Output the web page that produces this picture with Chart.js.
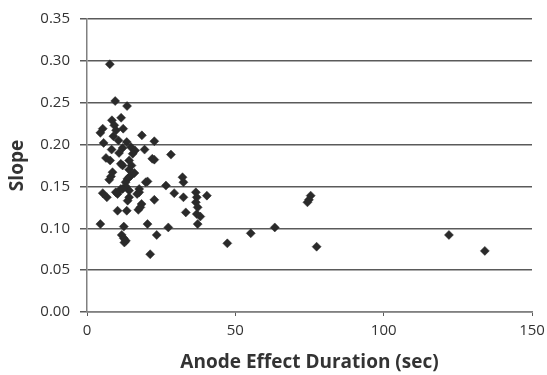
<!DOCTYPE html>
<html>
<head>
<meta charset="utf-8">
<script src="https://cdn.jsdelivr.net/npm/chart.js@4"></script>
<style>
  html, body { margin: 0; padding: 0; background: #fff; }
  #wrap { width: 547px; height: 375px; }
</style>
</head>
<body>
<div id="wrap"><canvas id="chart"></canvas></div>
<script>
// Anode effect duration (sec) vs slope
const durations = [
  7.7, 9.5, 13.5, 5.3, 4.5, 8.4, 9.2, 11.5, 9.8, 12.2,
  18.5, 22.7, 5.6, 10.6, 13.4, 14.8, 12.0, 8.3, 16.2, 19.4,
  28.3, 6.4, 7.8, 11.4, 14.2, 15.4, 22.7, 8.6, 8.1, 14.2,
  14.8, 7.5, 14.2, 20.4, 19.8, 32.2, 32.5, 26.6, 5.3, 6.7,
  10.3, 11.4, 13.1, 14.2, 14.2, 13.7, 17.6, 17.6, 22.7, 29.4,
  32.5, 36.7, 37.0, 40.4, 36.7, 37.3, 18.4, 18.0, 17.3, 10.3,
  13.4, 33.3, 37.0, 38.2, 4.5, 12.4, 20.4, 27.4, 37.3, 11.7,
  12.4, 13.1, 12.6, 23.5, 21.3, 47.3, 55.2, 63.3, 75.4, 74.8,
  74.3, 77.4, 122.0, 134.1, 12.0, 13.6, 16.9, 9.7, 12.0, 22.0,
  15.0, 10.8, 13.0, 8.9, 16.0
];
const slopes = [
  0.296, 0.252, 0.246, 0.219, 0.214, 0.229, 0.223, 0.232, 0.217, 0.219,
  0.211, 0.204, 0.202, 0.205, 0.203, 0.197, 0.196, 0.194, 0.193, 0.194,
  0.188, 0.184, 0.181, 0.177, 0.181, 0.189, 0.182, 0.167, 0.162, 0.170,
  0.163, 0.158, 0.161, 0.156, 0.155, 0.161, 0.155, 0.151, 0.142, 0.137,
  0.141, 0.147, 0.150, 0.145, 0.137, 0.133, 0.147, 0.143, 0.134, 0.142,
  0.137, 0.143, 0.137, 0.139, 0.131, 0.125, 0.129, 0.125, 0.122, 0.121,
  0.121, 0.119, 0.117, 0.114, 0.105, 0.102, 0.105, 0.101, 0.105, 0.092,
  0.088, 0.085, 0.083, 0.092, 0.069, 0.082, 0.094, 0.101, 0.139, 0.134,
  0.131, 0.078, 0.092, 0.073, 0.175, 0.159, 0.141, 0.143, 0.147, 0.183,
  0.175, 0.190, 0.155, 0.210, 0.166
];
const xTicks = [0, 50, 100, 150];
const yTicks = [0, 0.05, 0.10, 0.15, 0.20, 0.25, 0.30, 0.35];

const points = durations.map((d, i) => ({ x: d, y: slopes[i] }));
const textColor = '#333333';
const gridColor = '#5a5a5a';

new Chart(document.getElementById('chart'), {
  type: 'scatter',
  data: {
    datasets: [{
      data: points,
      pointStyle: 'rectRot',
      pointRadius: 4.5,
      pointBackgroundColor: '#2a2a2a',
      pointBorderColor: '#2a2a2a',
      pointBorderWidth: 0.5
    }]
  },
  options: {
    responsive: true,
    maintainAspectRatio: false,
    animation: false,
    layout: { padding: { top: 18, right: 15, left: 0, bottom: 0 } },
    plugins: {
      legend: { display: false },
      tooltip: { enabled: false }
    },
    scales: {
      x: {
        type: 'linear',
        min: 0,
        max: 150,
        afterBuildTicks: axis => { axis.ticks = xTicks.map(v => ({ value: v })); },
        afterFit: axis => {
          axis.height = 63;
          axis.paddingLeft = 0;
          axis.paddingRight = 0;
        },
        grid: {
          drawOnChartArea: false,
          drawTicks: true,
          tickLength: 4,
          color: gridColor
        },
        border: { color: '#808080', width: 1.5 },
        ticks: {
          color: textColor,
          padding: 6,
          maxRotation: 0,
          font: { family: 'Open Sans', size: 15 }
        },
        title: {
          display: true,
          text: 'Anode Effect Duration (sec)',
          color: textColor,
          padding: { top: 0, bottom: 1 },
          font: { family: 'Open Sans', size: 19, weight: 'bold' }
        }
      },
      y: {
        type: 'linear',
        min: 0,
        max: 0.35,
        afterBuildTicks: axis => { axis.ticks = yTicks.map(v => ({ value: v })); },
        afterFit: axis => { axis.width = 87; },
        grid: {
          color: gridColor,
          lineWidth: 1.5,
          tickLength: 7
        },
        border: { color: '#808080', width: 1.5 },
        ticks: {
          color: textColor,
          padding: 10,
          callback: v => v.toFixed(2),
          font: { family: 'Open Sans', size: 15 }
        },
        title: {
          display: true,
          text: 'Slope',
          color: textColor,
          padding: { top: 6, bottom: 0 },
          font: { family: 'Open Sans', size: 19, weight: 'bold' }
        }
      }
    }
  }
});
</script>
</body>
</html>
